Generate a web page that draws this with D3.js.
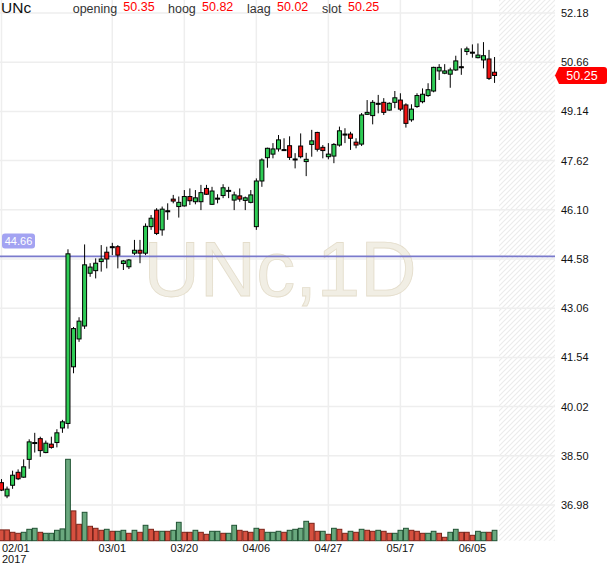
<!DOCTYPE html>
<html><head><meta charset="utf-8">
<script src="https://cdnjs.cloudflare.com/ajax/libs/d3/7.8.5/d3.min.js"></script>
<style>body{margin:0;background:#fff;} svg{display:block;font-family:Arial,"Liberation Sans",sans-serif;}</style>
</head><body><svg id="c" width="610" height="568"></svg>
<script>
const dates = [
"02/01","02/02","02/03","02/06","02/07","02/08","02/09","02/10","02/13","02/14","02/15","02/16","02/17","02/20","02/21","02/22","02/23","02/24","02/27","02/28",
"03/01","03/02","03/03","03/06","03/07","03/08","03/09","03/10","03/13","03/14","03/15","03/16","03/17","03/20","03/21","03/22","03/23","03/24","03/27","03/28","03/29","03/30","03/31",
"04/03","04/04","04/05","04/06","04/07","04/10","04/11","04/12","04/13","04/18","04/19","04/20","04/21","04/24","04/25","04/26","04/27","04/28",
"05/02","05/03","05/04","05/05","05/08","05/09","05/10","05/11","05/12","05/15","05/16","05/17","05/18","05/19","05/22","05/23","05/24","05/25","05/26","05/29","05/30","05/31",
"06/01","06/02","06/05","06/06","06/07","06/08","06/09"];
const open = [37.67,37.26,37.59,37.99,37.84,38.39,38.91,39.03,38.60,38.86,
38.91,39.36,39.50,41.25,42.11,42.51,44.14,44.22,44.50,44.79,
44.96,44.96,44.44,44.34,44.76,44.85,44.76,45.58,46.09,45.48,
46.07,46.43,46.20,46.22,46.51,46.35,46.35,46.76,46.27,46.46,
46.54,46.70,46.40,46.53,46.39,46.33,45.58,46.99,47.71,47.82,
47.98,47.96,48.08,47.67,48.07,47.59,48.12,48.49,48.03,47.74,
47.76,48.10,48.44,48.44,48.19,48.13,49.05,49.01,49.39,49.42,
49.18,49.42,49.49,49.34,48.88,49.29,49.44,49.63,49.77,50.39,
50.32,50.29,50.42,50.52,50.99,50.97,50.80,50.73,50.76,50.35];
const high = [37.78,37.55,38.04,38.08,38.39,39.01,39.21,39.09,38.97,39.09,
39.32,39.61,44.88,42.48,42.78,45.03,44.45,44.60,45.01,44.96,
45.08,45.01,44.55,44.58,45.17,45.17,45.68,45.94,46.15,46.20,
46.30,46.56,46.51,46.71,46.76,46.71,46.87,46.87,46.81,46.58,
46.89,46.81,46.66,46.76,46.51,46.71,47.07,47.69,48.02,48.16,
48.41,48.31,48.37,47.85,48.46,47.86,48.57,48.51,48.10,48.16,
48.16,48.67,48.62,48.51,48.31,49.09,49.49,49.49,49.65,49.55,
49.42,49.77,49.70,49.39,49.36,49.70,49.85,50.01,50.52,50.60,
50.60,50.49,50.86,51.09,51.14,51.21,51.24,51.28,51.04,50.82];
const low = [37.41,37.19,37.48,37.75,37.82,38.10,38.60,38.47,38.58,38.72,
38.76,39.21,39.34,41.05,42.02,42.42,44.03,43.98,44.19,44.29,
44.70,44.29,44.24,44.27,44.70,44.45,44.70,45.48,45.32,45.30,
45.79,46.30,45.86,46.20,46.25,46.27,46.09,46.56,46.25,46.30,
46.46,46.46,46.09,46.35,46.09,46.30,45.48,46.81,47.40,47.69,
47.90,47.95,47.64,47.38,47.69,47.14,47.74,47.90,47.69,47.66,
47.54,48.05,48.16,47.95,48.00,48.07,49.03,48.74,49.08,49.03,
49.16,49.24,49.15,48.64,48.82,49.25,49.39,49.59,49.73,50.11,
50.29,49.87,50.39,50.27,50.88,50.80,50.78,50.47,50.11,50.02];
const close = [37.44,37.47,37.90,37.79,38.16,38.93,38.91,38.66,38.89,38.76,
39.21,39.55,44.74,42.43,42.66,44.40,44.33,44.45,44.58,44.58,
44.96,44.70,44.52,44.55,44.85,44.76,45.59,45.84,45.37,46.12,
46.07,46.37,46.33,46.51,46.38,46.47,46.63,46.58,46.68,46.46,
46.78,46.70,46.56,46.43,46.47,46.56,46.99,47.64,48.00,47.98,
48.26,47.96,47.72,47.67,47.74,47.66,48.23,47.97,47.93,47.82,
48.12,48.54,48.44,48.31,48.10,49.03,49.11,49.42,49.39,49.11,
49.39,49.56,49.21,48.77,49.21,49.63,49.67,49.81,50.50,50.50,
50.39,50.42,50.70,50.52,51.07,50.97,50.88,50.86,50.16,50.25];
const volume = [5.4,5.4,4.2,3.7,4.2,5.7,6.2,4.2,3.7,3.7,
5.2,5.9,40.7,14.9,8.2,14.2,7.2,6.2,5.2,5.7,
4.7,4.7,5.2,3.7,5.2,4.2,7.7,5.7,4.7,4.7,
4.7,5.2,9.2,4.2,4.2,5.2,4.2,3.2,4.7,4.7,
3.7,3.7,7.7,5.2,4.7,4.2,6.2,5.7,4.2,4.2,
4.7,4.2,5.2,5.7,6.2,9.7,8.7,4.7,4.7,3.2,
6.2,5.7,3.7,4.7,4.2,5.7,5.2,4.7,5.2,4.7,
3.7,3.7,5.2,6.2,5.2,4.7,3.7,3.7,4.7,3.7,
1.7,4.2,5.7,4.2,4.2,2.7,4.7,4.2,4.2,5.2];
const volumeUp = [0,0,0,0,1,1,1,0,1,1,
1,1,1,0,0,1,0,0,0,1,
0,1,1,0,1,0,1,0,0,1,
0,1,1,0,0,1,0,0,1,1,
0,1,1,0,0,0,1,0,1,1,
1,0,1,1,1,1,0,0,1,0,
1,0,0,1,0,1,0,0,1,0,
0,1,1,1,0,0,0,1,1,0,
0,1,1,0,0,0,1,1,0,1];
const priceTicks = [36.98,38.50,40.02,41.54,43.06,44.58,46.10,47.62,49.14,50.66,52.18];
const dateTicks = ["02/01","03/01","03/20","04/06","04/27","05/17","06/05"];
const yearLabel = "2017";
const refLevel = 44.66;
const symbol = "UNc";
const watermark = "UNc,1D";
const headerLabels = ["opening","hoog","laag","slot"];
const headerValues = [50.35,50.82,50.02,50.25];

const svg = d3.select('#c');
const plotBottom = 540.7, hatchL = 499, hatchR = 555;
const x = d3.scaleBand().domain(dates).range([-1.27, 497.33]).padding(0);
const y = d3.scaleLinear().domain([36.98, 52.18]).range([505, 13]);
const yv = d3.scaleLinear().domain([0, 50]).range([plotBottom, plotBottom - 100]);
const cx = d => x(d) + x.bandwidth() / 2;

// hatch pattern
const defs = svg.append('defs');
const pat = defs.append('pattern').attr('id','hatch').attr('patternUnits','userSpaceOnUse')
  .attr('width',5).attr('height',5);
pat.append('path').attr('d','M0,5 L5,0 M-1,1 L1,-1 M4,6 L6,4')
  .attr('stroke','#ececec').attr('stroke-width',1.2);
svg.append('rect').attr('x',hatchL).attr('y',0).attr('width',hatchR-hatchL).attr('height',plotBottom)
  .attr('fill','url(#hatch)');

// grid
svg.append('g').selectAll('line').data(priceTicks).join('line')
  .attr('x1',0).attr('x2',hatchR).attr('y1',d=>y(d)).attr('y2',d=>y(d))
  .attr('stroke','#eeeeee').attr('stroke-width',1.5);
svg.append('g').selectAll('line').data(dateTicks).join('line')
  .attr('x1',d=>cx(d)).attr('x2',d=>cx(d)).attr('y1',0).attr('y2',plotBottom)
  .attr('stroke','#eeeeee').attr('stroke-width',1.5);

// watermark
svg.append('text').attr('x',280).attr('y',296).attr('text-anchor','middle')
  .attr('font-size',78).attr('fill','#f1eee4').attr('stroke','#e4ddcb').attr('stroke-width',0.8)
  .text(watermark);

// reference line
svg.append('line').attr('x1',0).attr('x2',hatchR).attr('y1',y(refLevel)).attr('y2',y(refLevel))
  .attr('stroke','#7a7acc').attr('stroke-width',1.6);
const rl = svg.append('g');
rl.append('rect').attr('x',2).attr('y',y(refLevel)-23).attr('width',33).attr('height',15).attr('rx',3)
  .attr('fill','#a3a3f2');
rl.append('text').attr('x',18.5).attr('y',y(refLevel)-11.5).attr('text-anchor','middle')
  .attr('font-size',11).attr('fill','#fff').text(refLevel.toFixed(2));

// volume
svg.append('g').selectAll('rect').data(dates).join('rect')
  .attr('x',d=>x(d)+0.4).attr('width',x.bandwidth()-0.8)
  .attr('y',(d,i)=>yv(volume[i])).attr('height',(d,i)=>plotBottom-yv(volume[i]))
  .attr('fill',(d,i)=>volumeUp[i]?'#6aa87e':'#d6503f')
  .attr('stroke',(d,i)=>volumeUp[i]?'#1f5232':'#7a2218').attr('stroke-width',1);

// candles
const cg = svg.append('g');
cg.selectAll('line').data(dates).join('line')
  .attr('x1',d=>cx(d)).attr('x2',d=>cx(d))
  .attr('y1',(d,i)=>y(high[i])).attr('y2',(d,i)=>y(low[i]))
  .attr('stroke','#000').attr('stroke-width',1);
cg.selectAll('rect').data(dates).join('rect')
  .attr('x',d=>cx(d)-2).attr('width',4)
  .attr('y',(d,i)=>Math.min(y(open[i]),y(close[i])))
  .attr('height',(d,i)=>Math.max(1,Math.abs(y(open[i])-y(close[i]))))
  .attr('fill',(d,i)=>close[i]>open[i]?'#2ecc55':(close[i]<open[i]?'#ee1111':'#000'))
  .attr('stroke','#000').attr('stroke-width',1);

// y axis
const ya = svg.append('g').attr('transform','translate(561,0)')
  .call(d3.axisRight(y).tickValues(priceTicks).tickFormat(d3.format('.2f')).tickSize(0).tickPadding(0));
ya.select('.domain').remove();
ya.selectAll('text').attr('font-size',11).attr('fill','#111').attr('font-family','Arial,"Liberation Sans",sans-serif');

// x axis
const xa = svg.append('g').attr('transform',`translate(0,${plotBottom})`)
  .call(d3.axisBottom(x).tickValues(dateTicks).tickSize(0).tickPadding(4));
xa.select('.domain').remove();
xa.selectAll('text').attr('font-size',11).attr('fill','#111').attr('font-family','Arial,"Liberation Sans",sans-serif');
xa.selectAll('text').filter(d=>d===dateTicks[0]).attr('text-anchor','start').attr('x',2-cx(dateTicks[0]));
svg.append('text').attr('x',2).attr('y',563).attr('font-size',11).attr('fill','#111').text(yearLabel);

// last price tag
const lastC = close[close.length-1];
const ly = y(lastC);
svg.append('path').attr('d',`M555,${ly} L559,${ly-8.5} L604,${ly-8.5} Q607,${ly-8.5} 607,${ly-5.5} L607,${ly+5.5} Q607,${ly+8.5} 604,${ly+8.5} L559,${ly+8.5} Z`)
  .attr('fill','#ff0000');
svg.append('text').attr('x',582).attr('y',ly+4.5).attr('text-anchor','middle').attr('font-size',12.5)
  .attr('fill','#fff').text(lastC.toFixed(2));

// header
svg.append('text').attr('x',1).attr('y',13).attr('font-size',15.5).attr('fill','#111').text(symbol);
const lx = [72.7,168,247,322], vx = [123.3,202,277,348];
headerLabels.forEach((t,i)=>{
  svg.append('text').attr('x',lx[i]).attr('y',13).attr('font-size',12.5).attr('fill','#333').text(t);
  svg.append('text').attr('x',vx[i]).attr('y',11).attr('font-size',12.5).attr('fill','#ff0000').text(headerValues[i].toFixed(2));
});
</script></body></html>
